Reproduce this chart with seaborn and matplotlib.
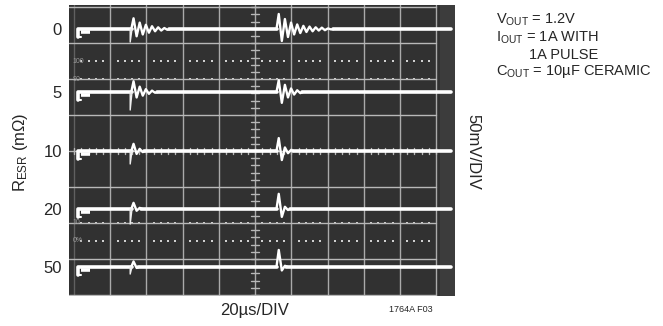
import numpy as np
import pandas as pd
import matplotlib.pyplot as plt
import seaborn as sns

sns.set_style("dark")
plt.rcParams['font.family'] = ['Liberation Sans Narrow', 'Liberation Sans', 'DejaVu Sans']

# scope screen units: divisions (10 x 8), centre at (5, 4)
trace_names = ['0', '5', '10', '20', '50']
trace_levels = [7.39, 5.64, 4.0, 2.39, 0.78]

# load step at t1, load release at t2 (divisions)
t1 = 1.6
t2 = 5.61
half_period = 0.085

# first event: downward glitch depth and ringing peaks (div)
dip1 = [-0.36, -0.5, -0.36, -0.42, -0.2]
ring1 = [
    [0.30, -0.20, 0.18, -0.15, 0.12, -0.10, 0.08, -0.06, 0.05, -0.04, 0.03, -0.02],
    [0.30, -0.15, 0.15, -0.10, 0.08, -0.05, 0.04, -0.02],
    [0.20, -0.08, 0.06, -0.03],
    [0.17, -0.05, 0.03],
    [0.15, -0.03],
]
# second event ringing peaks
ring2 = [
    [0.42, -0.33, 0.28, -0.22, 0.18, -0.15, 0.13, -0.11, 0.09, -0.08, 0.07,
     -0.06, 0.05, -0.04, 0.04, -0.03, 0.02, -0.01],
    [0.33, -0.30, 0.20, -0.15, 0.10, -0.07, 0.05, -0.03],
    [0.36, -0.25, 0.10, -0.06, 0.03],
    [0.42, -0.22, 0.06, -0.03],
    [0.47, -0.10, 0.03],
]
t_start = 0.1
t_end = 10.4

flat_rows = []
ring_rows = []
dips = []
for name, lvl, d1, r1, r2 in zip(trace_names, trace_levels, dip1, ring1, ring2):
    e1_end = t1 + len(r1) * half_period
    e2_end = t2 + len(r2) * half_period
    segs = [[(t_start, lvl - 0.22), (t_start, lvl), (t1, lvl)],
            [(e1_end, lvl), (t2, lvl)],
            [(e2_end, lvl), (t_end, lvl)]]
    for j, seg in enumerate(segs):
        for i, (t, v) in enumerate(seg):
            flat_rows.append({'seg': f'{name}-{j}', 'i': i, 't': t, 'v': v})
    for j, (t0, ring) in enumerate([(t1, r1), (t2, r2)]):
        pts = [(t0 - 0.02, lvl)]
        pts += [(t0 + (k + 0.5) * half_period, lvl + p) for k, p in enumerate(ring)]
        pts.append((t0 + len(ring) * half_period + 0.03, lvl))
        for i, (t, v) in enumerate(pts):
            ring_rows.append({'seg': f'{name}-{j}', 'i': i, 't': t, 'v': v})
    dips.append({'trace': name, 'i': 0, 't': t1 - 0.05, 'v': lvl})
    dips.append({'trace': name, 'i': 1, 't': t1 - 0.05, 'v': lvl + d1})
    dips.append({'trace': name, 'i': 2, 't': t1, 'v': lvl})

df_flat = pd.DataFrame(flat_rows)
df_ring = pd.DataFrame(ring_rows)
df_dip = pd.DataFrame(dips)

fig = plt.figure(figsize=(6.63, 3.26), dpi=100)
ax = fig.add_axes([69 / 663, 30 / 326, 386 / 663, 291 / 326])
ax.set_facecolor('#313131')
ax.set_xlim(-0.14, 10.52)
ax.set_ylim(-0.03, 8.06)
ax.axvspan(10.1, 10.52, color='#3c3c3c', lw=0)

grid_c = '#b8b8b8'
for x in range(0, 11):
    ax.axvline(x, color=grid_c, lw=1.0, alpha=0.9 if x > 0 else 0.35)
for y in range(0, 9):
    ax.plot([-0.14, 10.0], [y, y], color=grid_c, lw=1.0)

# centre graticule ticks
minor = np.arange(0, 10.01, 0.2)
for y in np.arange(0, 8.01, 0.2):
    ax.plot([4.9, 5.1], [y, y], color=grid_c, lw=1.0)
for x in minor:
    ax.plot([x, x], [3.92, 4.08], color=grid_c, lw=1.0)

# rise-time markers (dotted) and 10/90 lines
dot_x = [x for x in minor if abs(x - round(x)) > 0.01]
for y in [6.5, 6.0, 2.0, 1.5]:
    ax.scatter(dot_x, [y] * len(dot_x), s=3, marker='s', color='#d0d0d0', lw=0)
for y, s in [(6.5, '100'), (6.0, '90'), (2.0, '10'), (1.5, '0%')]:
    ax.text(-0.05, y, s, color='#9a9a9a', fontsize=5, va='center', ha='left')

sns.lineplot(data=df_flat, x='t', y='v', units='seg', estimator=None, sort=False,
             color='white', lw=2.6, ax=ax, legend=False)
sns.lineplot(data=df_ring, x='t', y='v', units='seg', estimator=None, sort=False,
             color='white', lw=1.7, ax=ax, legend=False)
sns.lineplot(data=df_dip, x='t', y='v', units='trace', estimator=None, sort=False,
             color='#eeeeee', lw=1.0, ax=ax, legend=False)
for lvl in trace_levels:
    ax.plot([0.2, 0.45], [lvl - 0.08, lvl - 0.08], color='white', lw=2.6,
            solid_capstyle='butt')
    ax.plot([0.1, 0.2], [lvl - 0.22, lvl - 0.22], color='white', lw=1.5)

ax.set_xticks([])
ax.set_yticks(trace_levels)
ax.set_yticklabels(trace_names, fontsize=12)
ax.tick_params(axis='y', length=0, pad=5)
ax.set_xlabel('')
ax.set_ylabel('')
for s in ax.spines.values():
    s.set_visible(False)

fig.text(20 / 663, 1 - 152 / 326, r'$\mathregular{R_{ESR}}$ (mΩ)', rotation=90,
         ha='center', va='center', fontsize=12)
fig.text(473 / 663, 1 - 152 / 326, '50mV/DIV', rotation=270,
         ha='center', va='center', fontsize=12)
fig.text(255 / 663, 1 - 311 / 326, '20µs/DIV', ha='center', va='center', fontsize=12)
fig.text(411 / 663, 1 - 309 / 326, '1764A F03', ha='center', va='center', fontsize=6.5)

note = [r'$\mathregular{V_{OUT}}$ = 1.2V', r'$\mathregular{I_{OUT}}$ = 1A WITH',
        '        1A PULSE', r'$\mathregular{C_{OUT}}$ = 10µF CERAMIC']
for k, line in enumerate(note):
    fig.text(496 / 663, 1 - (20 + 17.3 * k) / 326, line, ha='left', va='center',
             fontsize=10.5)

fig.savefig('out.png', dpi=100, facecolor='white')
